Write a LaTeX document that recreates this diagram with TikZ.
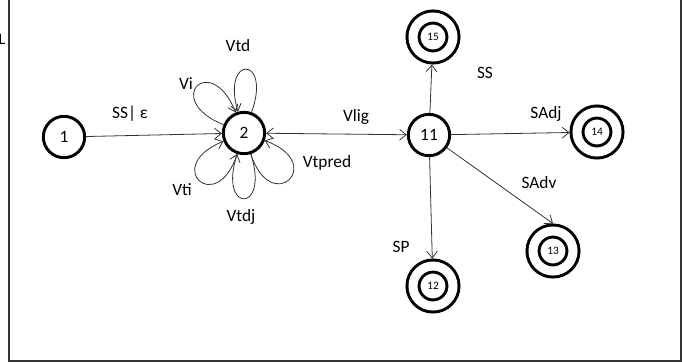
\documentclass[tikz,border=0pt]{standalone}
\usepackage{fontspec}
\setmainfont{Carlito}
\usepackage{tikz}
\usetikzlibrary{arrows.meta}

\begin{document}
\begin{tikzpicture}[x=0.75pt, y=-0.75pt,
  state/.style={circle, draw=black, line width=2.2pt, minimum size=31pt, inner sep=0pt, font=\fontsize{13}{15}\selectfont},
  final/.style={circle, draw=black, double=white, line width=2.25pt, double distance=6.75pt, minimum size=30pt, outer sep=5.6pt, inner sep=0pt, font=\fontsize{8.5}{10}\selectfont},
  edgelab/.style={font=\fontsize{13}{15}\selectfont},
  every edge/.style={draw, line width=0.6pt, color=black!80},
  >={Straight Barb[length=5pt, width=8pt]}]
\useasboundingbox (0,0) rectangle (682,362);

% frame
\draw[line width=1.6pt, color=black!80] (9,0) -- (9,361) -- (681,361) -- (681,0);
\draw (2,39) node[name = stray, font=\fontsize{12}{14}\selectfont]{L};

% states
\draw (64,137) node[name = n1, state]{1};
\draw (244,133) node[name = n2, state]{2};
\draw (429,135) node[name = n11, state]{11};
\draw (433,37) node[name = n15, final]{15};
\draw (597,132) node[name = n14, final]{14};
\draw (553,251) node[name = n13, final]{13};
\draw (433,286) node[name = n12, final]{12};

% transitions
\path (n1) edge[->] (n2);
\path (n2) edge[<->] (n11);
\path (n11) edge[->] (n15);
\path (n11) edge[->] (n14);
\path (n11) edge[->] (n13.north);
\path (n11) edge[->] (n12);

% loops on 2
\path (n2) edge[->, out=158, in=112, min distance=50pt] (n2);
\path (n2) edge[->, out=70, in=106, min distance=45pt] (n2);
\path (n2) edge[->, out=-72, in=-20, min distance=50pt] (n2);
\path (n2) edge[->, out=-72, in=-108, min distance=47pt] (n2);
\path (n2) edge[->, out=-108, in=-158, min distance=50pt] (n2);

% labels
\draw (130,114) node[name = lab1, edgelab]{SS| ε};
\draw (356,117) node[name = lab2, edgelab]{Vlig};
\draw (485,73) node[name = lab3, edgelab]{SS};
\draw (546,114) node[name = lab4, edgelab]{SAdj};
\draw (539,183) node[name = lab5, edgelab]{SAdv};
\draw (401,247) node[name = lab6, edgelab]{SP};
\draw (238,46) node[name = lab7, edgelab]{Vtd};
\draw (186,84) node[name = lab8, edgelab]{Vi};
\draw (327,163) node[name = lab9, edgelab]{Vtpred};
\draw (182,190) node[name = lab10, edgelab]{Vti};
\draw (241,217) node[name = lab11, edgelab]{Vtdj};

\end{tikzpicture}
\end{document}
